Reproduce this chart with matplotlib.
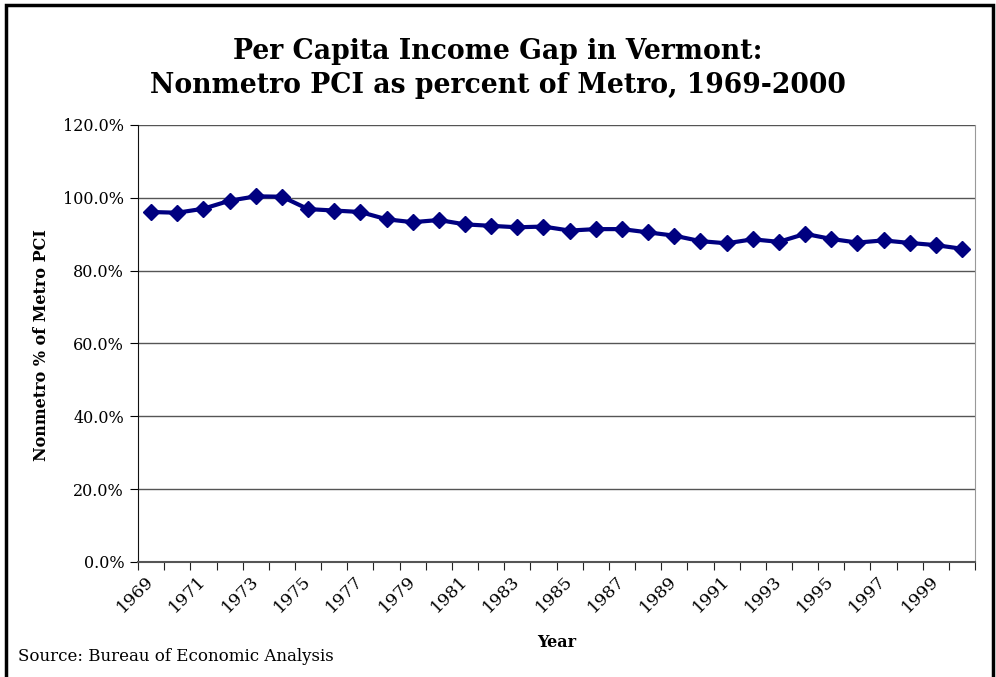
import matplotlib.pyplot as plt
from matplotlib.patches import Rectangle
from matplotlib.ticker import FuncFormatter, FixedLocator
import numpy as np

years = list(range(1969, 2001))
pct = [96.1, 95.9, 97.0, 99.2, 100.4, 100.3, 96.9, 96.5, 96.1, 94.1,
       93.3, 93.9, 92.7, 92.3, 91.9, 92.1, 91.0, 91.4, 91.4, 90.5,
       89.6, 88.1, 87.5, 88.6, 87.9, 90.1, 88.7, 87.7, 88.3, 87.6,
       87.0, 86.0]
yticks = [0, 20, 40, 60, 80, 100, 120]

plt.rcParams['font.family'] = 'DejaVu Serif'

fig = plt.figure(figsize=(9.96, 6.77), dpi=100)
ax = fig.add_axes([0.1386, 0.170, 0.8404, 0.6454])

x = np.arange(len(years))
ax.plot(x, pct, color='#000080', lw=3, marker='D', ms=8.5, zorder=3)

ax.set_xlim(-0.5, len(years) - 0.5)
ax.set_ylim(0, 120)
ax.set_yticks(yticks)
ax.yaxis.set_major_formatter(FuncFormatter(lambda v, p: f'{v:.1f}%'))
ax.grid(axis='y', color='#555555', lw=1)
ax.set_axisbelow(True)

# tick marks between categories, labels every other year
ax.xaxis.set_major_locator(FixedLocator(np.arange(-0.5, len(years), 1)))
ax.set_xticklabels([])
ax.set_xticks(x[::2], minor=True)
ax.set_xticklabels([str(y) for y in years[::2]], minor=True,
                   rotation=45, ha='right', va='center', rotation_mode='anchor')
ax.tick_params(axis='x', which='minor', length=0, pad=12, labelsize=12.5)
ax.tick_params(axis='x', which='major', length=6, direction='out', color='#222222')
ax.tick_params(axis='y', length=6, direction='out', labelsize=11.5, pad=4)

ax.spines['top'].set_visible(False)
ax.spines['right'].set_color('#999999')
ax.spines['left'].set_color('#111111')
ax.spines['bottom'].set_color('#555555')
ax.spines['bottom'].set_linewidth(1.5)

fig.text(0.5, 0.899, 'Per Capita Income Gap in Vermont:\nNonmetro PCI as percent of Metro, 1969-2000',
         ha='center', va='center', fontsize=19.2, fontweight='heavy',
         family='DejaVu Serif', linespacing=1.3)
fig.text(0.042, 0.49, 'Nonmetro % of Metro PCI', rotation=90, ha='center', va='center',
         fontsize=11.5, fontweight='bold')
fig.text(0.559, 0.051, 'Year', ha='center', va='center', fontsize=11.5, fontweight='bold')
fig.text(0.018, 0.031, 'Source: Bureau of Economic Analysis', ha='left', va='center', fontsize=12)

fig.patches.append(Rectangle((6 / 996, -0.05), (993 - 6) / 996, 1.05 - 5 / 677,
                             transform=fig.transFigure, fill=False, lw=2.5,
                             edgecolor='black'))

fig.savefig('out.png', dpi=100)
